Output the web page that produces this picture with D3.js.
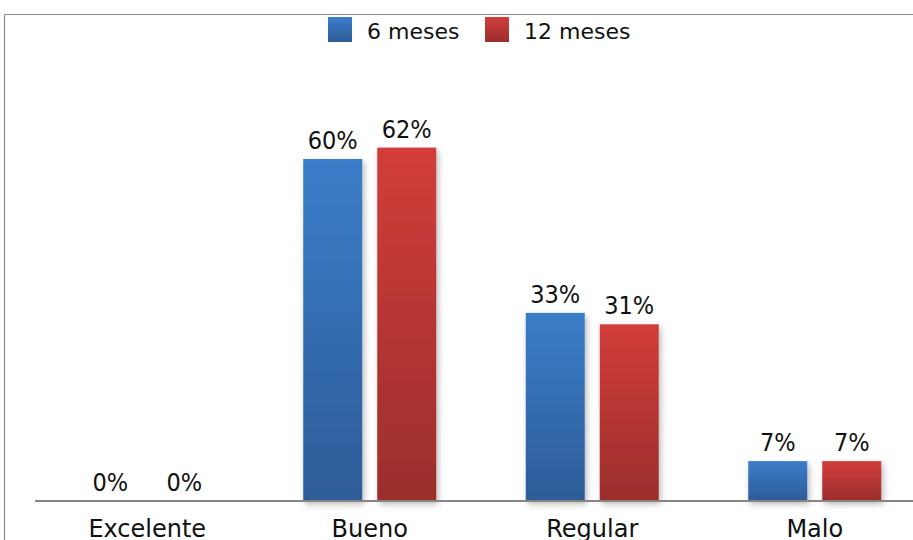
<!DOCTYPE html>
<html>
<head>
<meta charset="utf-8">
<script src="https://cdn.jsdelivr.net/npm/d3@7"></script>
<style>
  html, body { margin: 0; padding: 0; background: #fff; }
  svg { display: block; }
</style>
</head>
<body>
<svg id="chart" width="913" height="540"></svg>
<script>
// Survey ratings at 6 and 12 months (percent of respondents)
const categories = ["Excelente", "Bueno", "Regular", "Malo"];
const seriesNames = ["6 meses", "12 meses"];
const values6 = [0, 60, 33, 7];
const values12 = [0, 62, 31, 7];
const valueLabels6 = ["0%", "60%", "33%", "7%"];
const valueLabels12 = ["0%", "62%", "31%", "7%"];

const W = 913, H = 540;
const svg = d3.select("#chart");

const series = [
  { name: seriesNames[0], values: values6, labels: valueLabels6, top: "#3b7dca", bottom: "#2d5c97" },
  { name: seriesNames[1], values: values12, labels: valueLabels12, top: "#d23d3b", bottom: "#9a2e2c" }
];

const defs = svg.append("defs");
series.forEach((s, i) => {
  const g = defs.append("linearGradient")
    .attr("id", "grad" + i).attr("x1", 0).attr("y1", 0).attr("x2", 0).attr("y2", 1);
  g.append("stop").attr("offset", "0%").attr("stop-color", s.top);
  g.append("stop").attr("offset", "100%").attr("stop-color", s.bottom);
});
const shadow = defs.append("filter").attr("id", "shadow")
  .attr("x", "-20%").attr("y", "-10%").attr("width", "150%").attr("height", "130%");
shadow.append("feDropShadow")
  .attr("dx", 2).attr("dy", 3).attr("stdDeviation", 3)
  .attr("flood-color", "#000").attr("flood-opacity", 0.28);

// frame: top and left edges
svg.append("line").attr("x1", 4.5).attr("x2", W).attr("y1", 14.5).attr("y2", 14.5)
  .attr("stroke", "#8a8a8a").attr("stroke-width", 1.2);
svg.append("line").attr("x1", 4.5).attr("x2", 4.5).attr("y1", 14.5).attr("y2", H)
  .attr("stroke", "#8a8a8a").attr("stroke-width", 1.2);

const x = d3.scaleBand().domain(categories).range([36, 926]).padding(0);
const xs = d3.scaleBand().domain(seriesNames).range([0, x.bandwidth()])
  .paddingInner(0.2027).paddingOuter(0.6047);
const y = d3.scaleLinear().domain([0, 70]).range([501, 102]);

const groups = svg.append("g").selectAll("g.cat")
  .data(categories).join("g")
  .attr("class", "cat")
  .attr("transform", d => `translate(${x(d)},0)`);

series.forEach((s, si) => {
  groups.append("rect")
    .attr("x", xs(s.name))
    .attr("width", xs.bandwidth())
    .attr("y", (d, i) => y(s.values[i]))
    .attr("height", (d, i) => y(0) - y(s.values[i]))
    .attr("fill", `url(#grad${si})`)
    .attr("filter", "url(#shadow)");
});

// axis baseline and category labels
const axis = d3.axisBottom(x).tickSize(0).tickPadding(0);
const axisG = svg.append("g").attr("transform", `translate(0,${y(0)})`).call(axis);
axisG.select(".domain").attr("d", `M35,0H${W}`)
  .attr("stroke", "#858585").attr("stroke-width", 2);
axisG.selectAll(".tick text")
  .attr("y", 36).attr("dy", 0)
  .attr("font-family", "'DejaVu Sans', Verdana, sans-serif")
  .attr("font-size", 24).attr("fill", "#111");

// value labels
series.forEach((s, si) => {
  groups.append("text")
    .attr("x", xs(s.name) + xs.bandwidth() / 2)
    .attr("y", (d, i) => y(s.values[i]) - 10)
    .attr("text-anchor", "middle")
    .attr("font-family", "'Liberation Sans Narrow', 'DejaVu Sans Condensed', sans-serif")
    .attr("font-size", 25)
    .attr("fill", "#111")
    .text((d, i) => s.labels[i]);
});

// legend
const legendX = [328, 485];
const legend = svg.append("g");
series.forEach((s, si) => {
  legend.append("rect")
    .attr("x", legendX[si]).attr("y", 17).attr("width", 24).attr("height", 25)
    .attr("fill", `url(#grad${si})`);
  legend.append("text")
    .attr("x", legendX[si] + 39).attr("y", 39)
    .attr("font-family", "'DejaVu Sans', Verdana, sans-serif")
    .attr("font-size", 22).attr("fill", "#111")
    .text(s.name);
});
</script>
</body>
</html>
